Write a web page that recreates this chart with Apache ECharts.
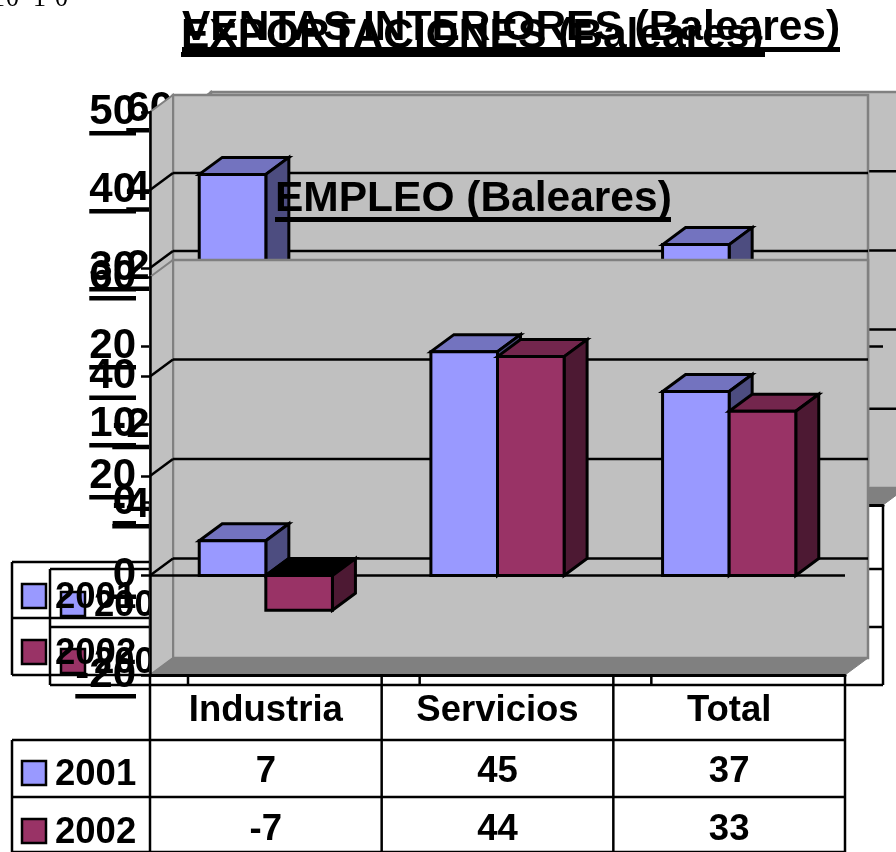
<!DOCTYPE html>
<html>
<head>
<meta charset="utf-8">
<style>
  html, body { margin: 0; padding: 0; background: #fff; }
  #main { width: 896px; height: 852px; }
</style>
<script src="https://cdn.jsdelivr.net/npm/echarts@6/dist/echarts.min.js"></script>
</head>
<body>
<div id="main"></div>
<script>
const categories = ['Industria', 'Servicios', 'Total'];
const years = ['2001', '2002'];

// front slide: EMPLEO
const empleo2001 = [7, 45, 37];
const empleo2002 = [-7, 44, 33];
const empleoTicks = [-20, 0, 20, 40, 60];

// middle slide: only two bars stick out above the front one
const export2001 = [42, null, 33];
const export2002 = [null, null, null];
const exportTicks = [0, 10, 20, 30, 40, 50];

// back slide: its bars are fully covered
const ventas2001 = [null, null, null];
const ventas2002 = [null, null, null];
const ventasTicks = [-40, -20, 0, 20, 40, 60];

const FONT = '"Liberation Sans", Arial, sans-serif';
const DX = 23, DY = 17;
const TICK_FONT = 42, TABLE_FONT = 36.5;
const BLUE = { front: '#9999ff', side: '#4d4d80', top: '#7373bf' };
const WINE = { front: '#993366', side: '#4d1933', top: '#73264d' };

const measure = document.createElement('canvas').getContext('2d');
function labelWidth(t) {
  measure.font = 'bold ' + TICK_FONT + 'px ' + FONT;
  return measure.measureText(String(t)).width;
}

// back to front, each one is a layer (zlevel)
const slides = [
  {
    title: 'VENTAS INTERIORES (Baleares)', titleX: 182, titleY: 7, ulY: 47, ulW: 658,
    ticks: ventasTicks, a: ventas2001, b: ventas2002,
    left: 188, top: 109, height: 396, labelMargin: 15,
    tableLeft: 50, rows: [64, 122, 180], patchX: 61, patchY: [604, 661], textX: 94, cells: false
  },
  {
    title: 'EXPORTACIONES (Baleares)', titleX: 181, titleY: 15, ulY: 52, ulW: 584,
    ticks: exportTicks, a: export2001, b: export2002,
    left: 150, top: 112, height: 390, labelMargin: 14,
    tableLeft: 12, rows: [60, 116, 173], patchX: 22, patchY: [596, 652], textX: 55, cells: false
  },
  {
    title: 'EMPLEO (Baleares)', titleX: 275, titleY: 178, ulY: 217, ulW: 396,
    ticks: empleoTicks, a: empleo2001, b: empleo2002,
    left: 150, top: 277, height: 398, labelMargin: 14,
    tableLeft: 12, rows: [65, 122, 177], patchX: 22, patchY: [773, 831], textX: 55, cells: true
  }
];

function poly(points, fill, stroke, lineWidth) {
  return {
    type: 'polygon',
    shape: { points: points },
    style: { fill: fill, stroke: stroke || null, lineWidth: lineWidth || 0, lineJoin: 'miter' }
  };
}
function line(x1, y1, x2, y2, color, w) {
  return {
    type: 'line',
    shape: { x1: x1, y1: y1, x2: x2, y2: y2 },
    style: { stroke: color || '#000', lineWidth: w || 2.5 }
  };
}

function frameRender(s) {
  return function (params, api) {
    const min = s.ticks[0], max = s.ticks[s.ticks.length - 1];
    const band = api.size([1, 0])[0];
    const xL = api.coord([0, 0])[0] - band / 2;
    const xR = xL + band * categories.length;
    const yT = api.coord([0, max])[1];
    const yB = api.coord([0, min])[1];
    const kids = [
      poly([[xL + DX, yT - DY], [xR + DX, yT - DY], [xR + DX, yB - DY], [xL + DX, yB - DY]], '#c0c0c0', '#808080', 2.5),
      poly([[xL, yT], [xL + DX, yT - DY], [xL + DX, yB - DY], [xL, yB]], '#c0c0c0', '#808080', 2),
      poly([[xL, yB], [xL + DX, yB - DY], [xR + DX, yB - DY], [xR, yB]], '#808080', '#808080', 1)
    ];
    s.ticks.forEach(function (t) {
      if (t === min || t === max) return;
      const y = api.coord([0, t])[1];
      kids.push(line(xL, y, xL + DX, y - DY));
      kids.push(line(xL + DX, y - DY, xR + DX, y - DY));
      if (t === 0) kids.push(line(xL, y, xR, y));
    });
    return { type: 'group', children: kids };
  };
}

function barRender(colors, side) {
  return function (params, api) {
    const i = api.value(0), v = api.value(1);
    const band = api.size([1, 0])[0];
    const base = api.coord([i, 0]);
    const end = api.coord([i, v]);
    const w = band * 0.2875;
    const x0 = base[0] + (side < 0 ? -w : 0), x1 = x0 + w;
    const yHi = Math.min(base[1], end[1]), yLo = Math.max(base[1], end[1]);
    const topFill = v < 0 ? '#000' : colors.top;
    return {
      type: 'group',
      children: [
        poly([[x0, yHi], [x0 + DX, yHi - DY], [x1 + DX, yHi - DY], [x1, yHi]], topFill, '#000', 3),
        poly([[x1, yHi], [x1 + DX, yHi - DY], [x1 + DX, yLo - DY], [x1, yLo]], colors.side, '#000', 3),
        poly([[x0, yHi], [x1, yHi], [x1, yLo], [x0, yLo]], colors.front, '#000', 3)
      ]
    };
  };
}

function tableText(x, y, text, align) {
  return {
    type: 'text',
    style: {
      x: x, y: y, text: text, fill: '#000',
      font: 'bold ' + TABLE_FONT + 'px ' + FONT, textAlign: align, textVerticalAlign: 'middle'
    }
  };
}

function tableRender(s) {
  return function (params, api) {
    const band = api.size([1, 0])[0];
    const xL = api.coord([0, 0])[0] - band / 2;
    const xR = xL + band * categories.length;
    const yB = api.coord([0, s.ticks[0]])[1];
    const last = yB + s.rows[2];
    const kids = [];
    // tick label underlines
    s.ticks.forEach(function (t) {
      const y = api.coord([0, t])[1] + 21;
      const right = xL - s.labelMargin;
      kids.push({
        type: 'rect',
        shape: { x: right - labelWidth(t), y: y - 2, width: labelWidth(t), height: 4.5 },
        style: { fill: '#000' }
      });
    });
    // grid of the data table
    for (let c = 0; c <= categories.length; c++) {
      kids.push(line(xL + c * band, yB, xL + c * band, last));
    }
    s.rows.forEach(function (r) {
      kids.push(line(s.tableLeft, yB + r, xR, yB + r));
    });
    kids.push(line(s.tableLeft, yB + s.rows[0], s.tableLeft, last));
    // legend keys inside the table
    years.forEach(function (year, r) {
      const cy = s.patchY[r];
      kids.push({
        type: 'rect',
        shape: { x: s.patchX, y: cy - 12, width: 24, height: 24 },
        style: { fill: r === 0 ? BLUE.front : WINE.front, stroke: '#000', lineWidth: 2.5 }
      });
      kids.push(tableText(s.textX, cy + 2, year, 'left'));
      if (s.cells) {
        const vals = r === 0 ? s.a : s.b;
        vals.forEach(function (v, c) {
          kids.push(tableText(xL + (c + 0.5) * band, cy - 1, String(v), 'center'));
        });
      }
    });
    return { type: 'group', children: kids };
  };
}

const titles = [], grids = [], xAxes = [], yAxes = [], series = [], rules = [];

slides.forEach(function (s, i) {
  titles.push({
    text: s.title, left: s.titleX, top: s.titleY, zlevel: i, padding: 0,
    textStyle: { fontFamily: FONT, fontSize: 42.5, fontWeight: 'bold', color: '#000' }
  });
  rules.push({
    type: 'rect', zlevel: i, silent: true,
    shape: { x: s.titleX, y: s.ulY, width: s.ulW, height: 5 },
    style: { fill: '#000' }
  });
  grids.push({ left: s.left, top: s.top, width: 695, height: s.height, show: false, zlevel: i });
  xAxes.push({
    type: 'category', gridIndex: i, zlevel: i, data: categories, position: 'bottom',
    axisLine: { onZero: false, lineStyle: { color: '#000', width: 3 } },
    axisTick: { show: false },
    axisLabel: { fontFamily: FONT, fontSize: TABLE_FONT, fontWeight: 'bold', color: '#000', margin: 17, interval: 0 }
  });
  yAxes.push({
    type: 'value', gridIndex: i, zlevel: i,
    min: s.ticks[0], max: s.ticks[s.ticks.length - 1], interval: s.ticks[1] - s.ticks[0],
    splitLine: { show: false },
    axisLine: { show: true, onZero: false, lineStyle: { color: '#000', width: 2.5 } },
    axisTick: { show: true, length: 9, lineStyle: { color: '#000', width: 2.5 } },
    axisLabel: {
      fontFamily: FONT, fontSize: TICK_FONT, fontWeight: 'bold', color: '#000', margin: s.labelMargin,
      padding: [4, 0, 0, 0]
    }
  });
  series.push({
    type: 'custom', name: 'frame' + i, xAxisIndex: i, yAxisIndex: i, zlevel: i, z: -1, silent: true,
    clip: false, data: [[0, 0]], encode: { x: 0, y: 1 }, renderItem: frameRender(s)
  });
  [[s.a, BLUE, -1, years[0]], [s.b, WINE, 1, years[1]]].forEach(function (b) {
    series.push({
      type: 'custom', name: b[3], xAxisIndex: i, yAxisIndex: i, zlevel: i, z: 3, silent: true, clip: false,
      data: b[0].map(function (v, c) { return [c, v]; }).filter(function (d) { return d[1] !== null; }),
      encode: { x: 0, y: 1 }, renderItem: barRender(b[1], b[2])
    });
  });
  series.push({
    type: 'custom', name: 'table' + i, xAxisIndex: i, yAxisIndex: i, zlevel: i, z: 4, silent: true,
    clip: false, data: [[0, 0]], encode: { x: 0, y: 1 }, renderItem: tableRender(s)
  });
});

// clipped line of slide text at the very top
[['1', -8], ['0', 6], ['1', 33], ['0', 55]].forEach(function (g) {
  titles.push({
    text: g[0], left: g[1], top: -14, zlevel: 0, padding: 0,
    textStyle: { fontFamily: '"Liberation Serif", serif', fontSize: 26, fontWeight: 'normal', color: '#000' }
  });
});

const chart = echarts.init(document.getElementById('main'), null, { renderer: 'canvas' });
chart.setOption({
  animation: false,
  backgroundColor: '#fff',
  title: titles,
  grid: grids,
  xAxis: xAxes,
  yAxis: yAxes,
  graphic: { elements: rules },
  series: series
});
</script>
</body>
</html>
